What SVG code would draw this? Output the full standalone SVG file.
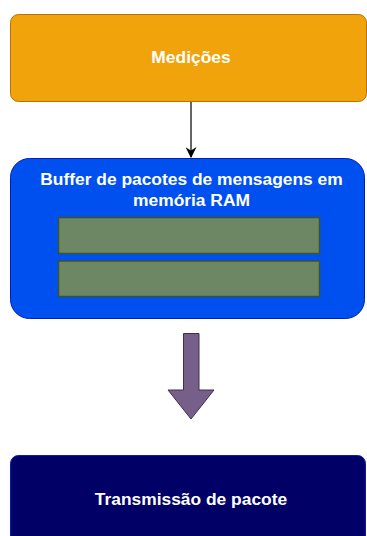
<svg xmlns="http://www.w3.org/2000/svg" width="367" height="536" viewBox="0 0 367 536">
  <style>
    .lbl { font-family: "Liberation Sans", Arial, sans-serif; font-weight: bold; font-size: 17.4px; fill: #ffffff; text-anchor: middle; }
    .pkt { fill: #6d8764; stroke: #3a5431; stroke-width: 1.5; }
    .edge { fill: none; stroke: #333333; stroke-width: 1.5; }
  </style>
  <defs>
    <marker id="arrow" viewBox="0 0 10 10" refX="9" refY="5" markerWidth="11" markerHeight="11" markerUnits="userSpaceOnUse" orient="auto">
      <path d="M0,0 L10,5 L0,10 L3,5 Z" fill="#000000"/>
    </marker>
  </defs>

  <rect width="367" height="536" fill="#ffffff"/>

  <g id="medicoes">
    <rect x="10.5" y="14.5" width="356" height="87" rx="8" fill="#f0a30a" stroke="#bd7000" stroke-width="1"/>
    <text class="lbl" x="191" y="63">Medições</text>
  </g>

  <g id="buffer">
    <rect x="10.5" y="158.5" width="354" height="160" rx="19" fill="#0050ef" stroke="#001dbc" stroke-width="1"/>
    <text class="lbl" x="191.5" y="185">Buffer de pacotes de mensagens em</text>
    <text class="lbl" x="191.5" y="206">memória RAM</text>
    <rect class="pkt" x="58.5" y="217.5" width="261" height="36"/>
    <rect class="pkt" x="58.5" y="261" width="261" height="35.5"/>
  </g>

  <g id="transmissao">
    <rect x="10.5" y="455.5" width="355" height="100" rx="8" fill="#000066" stroke="#001dbc" stroke-width="1"/>
    <text class="lbl" x="191" y="505">Transmissão de pacote</text>
  </g>

  <g id="connectors">
    <line class="edge" x1="191" y1="102" x2="191" y2="157" marker-end="url(#arrow)"/>
    <path d="M183.5,333.5 H199 V390 H214 L191,419 L168,390 H183.5 Z" fill="#76608a" stroke="#432d57" stroke-width="1"/>
  </g>
</svg>
